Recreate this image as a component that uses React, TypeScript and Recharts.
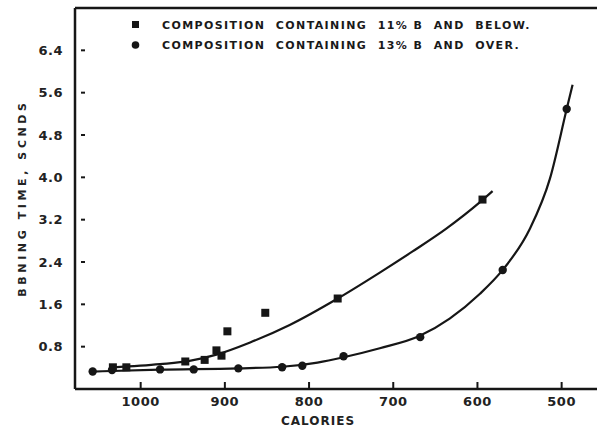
import React from 'react';
import { ComposedChart, Line, Scatter, XAxis, YAxis, ReferenceLine, Legend } from 'recharts';

const xTicks = [1000, 900, 800, 700, 600, 500];
const yTicks = [0.8, 1.6, 2.4, 3.2, 4.0, 4.8, 5.6, 6.4];

const seriesLow = 'COMPOSITION  CONTAINING  11% B  AND  BELOW.';
const seriesHigh = 'COMPOSITION  CONTAINING  13% B  AND  OVER.';

// squares: 11% B and below
const squarePoints = [
  { cal: 1033, time: 0.41 },
  { cal: 1017, time: 0.41 },
  { cal: 947, time: 0.52 },
  { cal: 924, time: 0.55 },
  { cal: 910, time: 0.73 },
  { cal: 904, time: 0.63 },
  { cal: 897, time: 1.09 },
  { cal: 852, time: 1.44 },
  { cal: 766, time: 1.71 },
  { cal: 594, time: 3.58 },
];

// circles: 13% B and over
const circlePoints = [
  { cal: 1057, time: 0.33 },
  { cal: 1034, time: 0.36 },
  { cal: 977, time: 0.37 },
  { cal: 937, time: 0.37 },
  { cal: 884, time: 0.39 },
  { cal: 832, time: 0.41 },
  { cal: 808, time: 0.44 },
  { cal: 759, time: 0.62 },
  { cal: 668, time: 0.98 },
  { cal: 570, time: 2.25 },
  { cal: 494, time: 5.29 },
];

// fitted curve through the squares
const squareCurve = [
  { cal: 1033, time: 0.41 },
  { cal: 977, time: 0.47 },
  { cal: 942, time: 0.53 },
  { cal: 910, time: 0.65 },
  { cal: 870, time: 0.88 },
  { cal: 823, time: 1.21 },
  { cal: 766, time: 1.71 },
  { cal: 716, time: 2.2 },
  { cal: 677, time: 2.6 },
  { cal: 637, time: 3.03 },
  { cal: 597, time: 3.53 },
  { cal: 582, time: 3.74 },
];

// fitted curve through the circles
const circleCurve = [
  { cal: 1057, time: 0.33 },
  { cal: 977, time: 0.365 },
  { cal: 884, time: 0.39 },
  { cal: 832, time: 0.42 },
  { cal: 790, time: 0.5 },
  { cal: 759, time: 0.6 },
  { cal: 716, time: 0.77 },
  { cal: 669, time: 1.0 },
  { cal: 633, time: 1.33 },
  { cal: 597, time: 1.8 },
  { cal: 570, time: 2.25 },
  { cal: 538, time: 3.02 },
  { cal: 514, time: 3.97 },
  { cal: 494, time: 5.29 },
  { cal: 487, time: 5.75 },
];

const INK = '#161616';
const FONT = '"DejaVu Sans", "Liberation Sans", sans-serif';

const SquareShape = (p: any) => (
  <rect x={p.cx - 4} y={p.cy - 4} width={8} height={8} fill={INK} />
);
const CircleShape = (p: any) => <circle cx={p.cx} cy={p.cy} r={4.2} fill={INK} />;

const YTick = (p: any) => {
  const { x, y, payload } = p;
  return (
    <g>
      <text
        x={x}
        y={y}
        textAnchor="end"
        dominantBaseline="central"
        fontFamily={FONT}
        fontWeight={700}
        fontSize={13}
        letterSpacing={0.5}
        fill="#222"
      >
        {Number(payload.value).toFixed(1)}
      </text>
      <line x1={x + 18} x2={x + 22} y1={y} y2={y} stroke={INK} strokeWidth={2} />
    </g>
  );
};

const XTick = (p: any) => {
  const { x, y, payload } = p;
  return (
    <g>
      <line x1={x} x2={x} y1={y - 4 - 7} y2={y - 4} stroke={INK} strokeWidth={2} />
      <text
        x={x}
        y={y + 13}
        textAnchor="middle"
        fontFamily={FONT}
        fontWeight={700}
        fontSize={13}
        letterSpacing={0.5}
        fill="#222"
      >
        {payload.value}
      </text>
    </g>
  );
};

const LegendBox = () => (
  <div style={{ fontFamily: FONT, fontWeight: 700, fontSize: 11, color: '#1a1a1a', letterSpacing: 1.4 }}>
    <div style={{ display: 'flex', alignItems: 'center', height: 20 }}>
      <svg width={30} height={12}>
        <rect x={6} y={2} width={7} height={7} fill={INK} />
      </svg>
      <span style={{ whiteSpace: 'pre', marginLeft: 6 }}>{seriesLow}</span>
    </div>
    <div style={{ display: 'flex', alignItems: 'center', height: 20 }}>
      <svg width={30} height={12}>
        <circle cx={9.5} cy={6} r={3.8} fill={INK} />
      </svg>
      <span style={{ whiteSpace: 'pre', marginLeft: 6 }}>{seriesHigh}</span>
    </div>
  </div>
);

export default function App() {
  return (
    <div style={{ position: 'absolute', left: 0, top: 0, background: '#fff' }}>
      <ComposedChart width={597} height={432} margin={{ top: 8, right: 0, bottom: 0, left: 0 }}>
        <XAxis
          type="number"
          dataKey="cal"
          domain={[458, 1078]}
          reversed
          ticks={xTicks}
          tick={<XTick />}
          tickLine={false}
          tickSize={0}
          tickMargin={4}
          height={43}
          axisLine={{ stroke: INK, strokeWidth: 2.5 }}
          allowDataOverflow
          label={{
            content: () => (
              <text
                x={318}
                y={425}
                textAnchor="middle"
                fontFamily={FONT}
                fontWeight={700}
                fontSize={12}
                letterSpacing={1}
                fill="#222"
              >
                CALORIES
              </text>
            ),
          }}
        />
        <YAxis
          type="number"
          dataKey="time"
          domain={[0, 7.2]}
          ticks={yTicks}
          tick={<YTick />}
          tickLine={false}
          tickSize={0}
          tickMargin={12}
          width={75}
          axisLine={{ stroke: INK, strokeWidth: 2.5 }}
          allowDataOverflow
          label={{
            content: () => (
              <text
                transform="translate(26,198) rotate(-90)"
                textAnchor="middle"
                fontFamily={FONT}
                fontWeight={700}
                fontSize={11}
                letterSpacing={3.6}
                fill="#222"
              >
                BBNING  TIME,  SCNDS
              </text>
            ),
          }}
        />
        <ReferenceLine y={7.2} stroke={INK} strokeWidth={2.5} />
        <Legend
          layout="horizontal"
          verticalAlign="middle"
          align="center"
          content={() => <LegendBox />}
          wrapperStyle={{ position: 'absolute', top: 15, left: 126, width: 470, height: 40 }}
        />
        <Line
          data={squareCurve}
          dataKey="time"
          type="monotone"
          stroke={INK}
          strokeWidth={2.2}
          dot={false}
          activeDot={false}
          isAnimationActive={false}
          legendType="none"
        />
        <Line
          data={circleCurve}
          dataKey="time"
          type="monotone"
          stroke={INK}
          strokeWidth={2.2}
          dot={false}
          activeDot={false}
          isAnimationActive={false}
          legendType="none"
        />
        <Scatter data={squarePoints} dataKey="time" shape={SquareShape} isAnimationActive={false} name={seriesLow} />
        <Scatter data={circlePoints} dataKey="time" shape={CircleShape} isAnimationActive={false} name={seriesHigh} />
      </ComposedChart>
    </div>
  );
}
